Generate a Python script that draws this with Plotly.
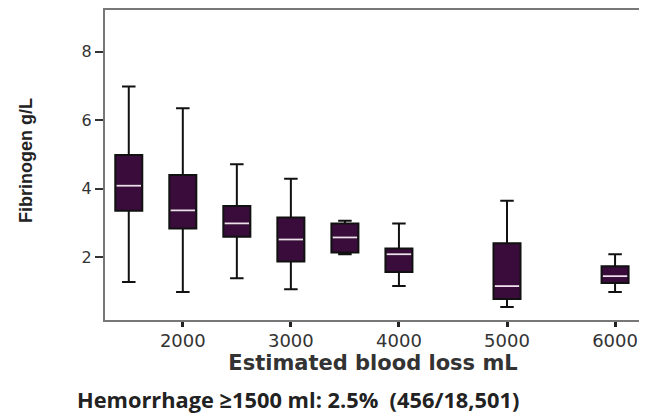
import plotly.graph_objects as go

# Data
blood_loss = [1500, 2000, 2500, 3000, 3500, 4000, 5000, 6000]
lower_whisker = [1.28, 0.99, 1.39, 1.07, 2.09, 1.16, 0.55, 0.99]
q1_values = [3.36, 2.84, 2.60, 1.88, 2.14, 1.57, 0.78, 1.25]
medians = [4.09, 3.37, 2.99, 2.52, 2.58, 2.09, 1.16, 1.45]
q3_values = [4.99, 4.40, 3.50, 3.16, 2.99, 2.26, 2.41, 1.74]
upper_whisker = [6.99, 6.35, 4.72, 4.29, 3.07, 2.99, 3.65, 2.09]
x_tick_values = [2000, 3000, 4000, 5000, 6000]
y_tick_values = [2, 4, 6, 8]

BOX_W = 250
FILL = "#3a0c3c"
MEDIAN_COLOR = "#f2dcef"

# page is rendered with an 8px body margin
W, H = 639, 406
L, R, T, B = 97, 6, 0, 94
PW, PH = W - L - R, H - T - B

fig = go.Figure()
fig.add_trace(go.Box(
    x=blood_loss,
    q1=q1_values, median=medians, q3=q3_values,
    lowerfence=lower_whisker, upperfence=upper_whisker,
    width=BOX_W,
    fillcolor=FILL,
    line=dict(color="#111111", width=2),
    whiskerwidth=0.5,
    boxpoints=False,
    hoverinfo="skip",
    showlegend=False,
))

# light median lines drawn over the boxes
mx, my = [], []
inner = BOX_W / 2 - 12
for xv, m in zip(blood_loss, medians):
    mx += [xv - inner, xv + inner, None]
    my += [m, m, None]
fig.add_trace(go.Scatter(
    x=mx, y=my, mode="lines",
    line=dict(color=MEDIAN_COLOR, width=1.8),
    showlegend=False, hoverinfo="skip",
))

fig.update_layout(
    width=W, height=H,
    margin=dict(l=L, r=R, t=T, b=B),
    paper_bgcolor="white", plot_bgcolor="white",
    font=dict(family="DejaVu Sans", color="#222"),
    xaxis=dict(
        range=[1280, 6240],
        tickvals=x_tick_values,
        ticktext=[str(v) for v in x_tick_values],
        ticks="outside", ticklen=5, tickwidth=2.5, tickcolor="#222",
        ticklabelstandoff=-2,
        tickfont=dict(family="DejaVu Sans", size=18, color="#333"),
        showgrid=False, zeroline=False,
        showline=True, linecolor="#777", linewidth=2, mirror=True,
        title=dict(text="<b>Estimated blood loss mL</b>",
                   font=dict(family="DejaVu Sans", size=21, color="#333"),
                   standoff=2),
    ),
    yaxis=dict(
        range=[0.17, 9.22],
        tickvals=y_tick_values,
        ticks="outside", ticklen=8, tickwidth=2, tickcolor="#333",
        tickfont=dict(family="DejaVu Sans", size=16, color="#333"),
        showgrid=False, zeroline=False,
        showline=True, linecolor="#777", linewidth=2, mirror=True,
    ),
    annotations=[
        dict(
            text="<b>Fibrinogen g/L</b>",
            xref="paper", yref="paper",
            x=(18 - L) / PW, y=1 - (152 - T) / PH,
            xanchor="center", yanchor="middle",
            textangle=-90, showarrow=False,
            font=dict(family="Liberation Sans", size=18, color="#222"),
        ),
        dict(
            text="<b>Hemorrhage ≥1500 ml: 2.5%\u00a0\u00a0(456/18,501)</b>",
            xref="paper", yref="paper",
            x=(67 - L) / PW, y=-(392 - T - PH) / PH,
            xanchor="left", yanchor="middle",
            showarrow=False,
            font=dict(family="Open Sans", size=21.8, color="#222"),
        ),
    ],
)

fig.write_html("out.html")
